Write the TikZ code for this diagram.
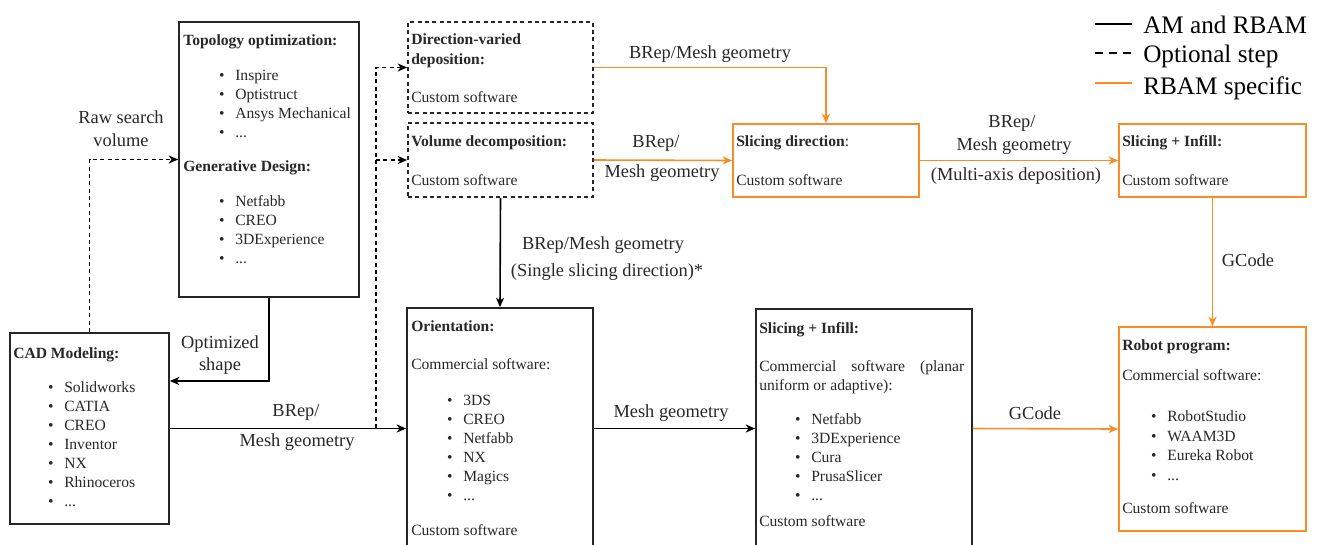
\documentclass[tikz,border=0pt]{standalone}
\usepackage{fontspec}
\setmainfont{Liberation Serif}
\usetikzlibrary{arrows.meta,fit}
\definecolor{rbam}{RGB}{250,140,40}
\definecolor{txt}{RGB}{40,40,40}
\newcommand\myli[1]{\llap{\textbullet\hspace{8pt}}#1}
\newcommand\mydots{...}
\begin{document}
\begin{tikzpicture}[x=0.75pt,y=-0.75pt,
  box/.style={draw=black!85,line width=1.3pt,inner sep=0pt},
  obox/.style={draw=rbam,line width=1.3pt,inner sep=0pt},
  dbox/.style={draw=black!85,line width=1.3pt,inner sep=0pt,dash pattern=on 3pt off 2.5pt},
  bt/.style={font=\fontsize{11.7}{14}\selectfont,text=txt,anchor=west,inner sep=0pt,text height=8pt,text depth=2.5pt},
  bh/.style={bt,font=\fontsize{11.7}{14}\selectfont\bfseries},
  el/.style={font=\fontsize{13.8}{16}\selectfont,text=txt,inner sep=0pt,text height=9.5pt,text depth=3pt},
  lg/.style={font=\fontsize{18.9}{22}\selectfont,text=black,inner sep=0pt,anchor=base west},
  arr/.style={line width=1.2pt,-{Stealth[length=7pt,width=6pt,inset=2pt]}},
  oarr/.style={arr,draw=rbam},
  darr/.style={arr,dash pattern=on 3pt off 2.5pt}
]
\useasboundingbox (0,0) rectangle (1318,544);
\fill[white] (0,0) rectangle (1318,544);
\clip (0,0) rectangle (1318,544);

% ---------- boxes ----------
\node[box,fit={(179,22)(359,297)}] (topo) {};
\node[box,fit={(10,333)(169,524)}] (cad) {};
\node[dbox,fit={(408,22)(593,113)}] (dirvar) {};
\node[dbox,fit={(408,123)(593,197)}] (voldec) {};
\node[obox,fit={(733,124)(919,197)}] (slicedir) {};
\node[obox,fit={(1119,124)(1306,197)}] (slicetop) {};
\node[box,fit={(407,308)(593,549)}] (orient) {};
\node[box,fit={(756,309)(972,548)}] (slicebot) {};
\node[obox,fit={(1119,327)(1306,531)}] (robot) {};

% ---------- box texts ----------
\node[bh] (topoH) at (183,42) {Topology optimization:};
\foreach \t [count=\i] in {Inspire,Optistruct,Ansys Mechanical,\mydots}
  \node[bt] (ta\i) at (235,{77+18.8*(\i-1)}) {\myli{\t}};
\node[bh] (genH) at (183,168) {Generative Design:};
\foreach \t [count=\i] in {Netfabb,CREO,3DExperience,\mydots}
  \node[bt] (tb\i) at (235,{203+18.8*(\i-1)}) {\myli{\t}};

\node[bh] (cadH) at (13,355) {CAD Modeling:};
\foreach \t [count=\i] in {Solidworks,CATIA,CREO,Inventor,NX,Rhinoceros,\mydots}
  \node[bt] (ca\i) at (64,{389+18.9*(\i-1)}) {\myli{\t}};

\node[bh] (dvH1) at (411,41) {Direction-varied};
\node[bh] (dvH2) at (411,61) {deposition:};
\node[bt] (dvC) at (411,99) {Custom software};

\node[bh] (vdH) at (411,143) {Volume decomposition:};
\node[bt] (vdC) at (411,182) {Custom software};

\node[bt] (sdH) at (736,143) {\textbf{Slicing direction}:};
\node[bt] (sdC) at (736,182) {Custom software};

\node[bh] (stH) at (1122,143) {Slicing + Infill:};
\node[bt] (stC) at (1122,182) {Custom software};

\node[bh] (orH) at (411,328) {Orientation:};
\node[bt] (orC1) at (411,366) {Commercial software:};
\foreach \t [count=\i] in {3DS,CREO,Netfabb,NX,Magics,\mydots}
  \node[bt] (or\i) at (463,{402+19*(\i-1)}) {\myli{\t}};
\node[bt] (orC2) at (411,532) {Custom software};

\node[bh] (sbH) at (759,330) {Slicing + Infill:};
\node[bt] (sbC1) at (759,368) {\makebox[153.75pt][s]{Commercial\hfill software\hfill (planar}};
\node[bt] (sbC2) at (759,387) {uniform or adaptive):};
\foreach \t [count=\i] in {Netfabb,3DExperience,Cura,PrusaSlicer,\mydots}
  \node[bt] (sb\i) at (811,{421+19*(\i-1)}) {\myli{\t}};
\node[bt] (sbC3) at (759,523) {Custom software};

\node[bh] (rbH) at (1122,347) {Robot program:};
\node[bt] (rbC1) at (1122,377) {Commercial software:};
\foreach \t [count=\i] in {RobotStudio,WAAM3D,Eureka Robot,\mydots}
  \node[bt] (rb\i) at (1167,{418+19.5*(\i-1)}) {\myli{\t}};
\node[bt] (rbC2) at (1122,510) {Custom software};

% ---------- connectors ----------
\coordinate (optY) at (0,381);
\coordinate (split) at (376,428);
\draw[darr] (cad.north) |- (topo.west);
\draw[arr] (topo.south) |- (cad.east |- optY);
\draw[arr] (cad.east) -- (orient.west);
\draw[darr] (split) |- (dirvar.west);
\draw[darr] (split |- voldec.west) -- (voldec.west);
\draw[oarr] (dirvar.east) -| (slicedir.north);
\draw[oarr] (voldec.east) -- (slicedir.west);
\draw[arr] (voldec.south) -- (orient.north);
\draw[oarr] (slicedir.east) -- (slicetop.west);
\draw[oarr] (slicetop.south) -- (robot.north);
\draw[arr] (orient.east) -- (slicebot.west);
\draw[oarr] (slicebot.east) -- (robot.west);

% ---------- connector labels ----------
\node[el] (l1a) at (121,119) {Raw search};
\node[el] (l1b) at (121,142) {volume};
\node[el] (l2a) at (220,344) {Optimized};
\node[el] (l2b) at (220,366) {shape};
\node[el] (l3a) at (296,412) {BRep/};
\node[el] (l3b) at (297,442) {Mesh geometry};
\node[el] (l4) at (710,54) {BRep/Mesh geometry};
\node[el] (l5a) at (656,143) {BRep/};
\node[el] (l5b) at (662,173) {Mesh geometry};
\node[el] (l6a) at (603,245) {BRep/Mesh geometry};
\node[el] (l6b) at (607,272) {(Single slicing direction)*};
\node[el] (l7a) at (1012,123) {BRep/};
\node[el] (l7b) at (1014,146) {Mesh geometry};
\node[el] (l7c) at (1016,176) {(Multi-axis deposition)};
\node[el] (l8) at (1248,262) {GCode};
\node[el] (l9) at (671,413) {Mesh geometry};
\node[el] (l10) at (1035,415) {GCode};

% ---------- legend ----------
\coordinate (g1a) at (1095,24); \coordinate (g1b) at (1132,24);
\coordinate (g2a) at (1095,53); \coordinate (g2b) at (1132,53);
\coordinate (g3a) at (1095,83); \coordinate (g3b) at (1132,83);
\draw[line width=1.5pt] (g1a) -- (g1b);
\draw[line width=1.5pt,dash pattern=on 6pt off 4.5pt] (g2a) -- (g2b);
\draw[line width=1.5pt,rbam] (g3a) -- (g3b);
\node[lg] (lgA) at (1143,33) {AM and RBAM};
\node[lg] (lgB) at (1143,62) {Optional step};
\node[lg] (lgC) at (1143,94) {RBAM specific};
\end{tikzpicture}
\end{document}
